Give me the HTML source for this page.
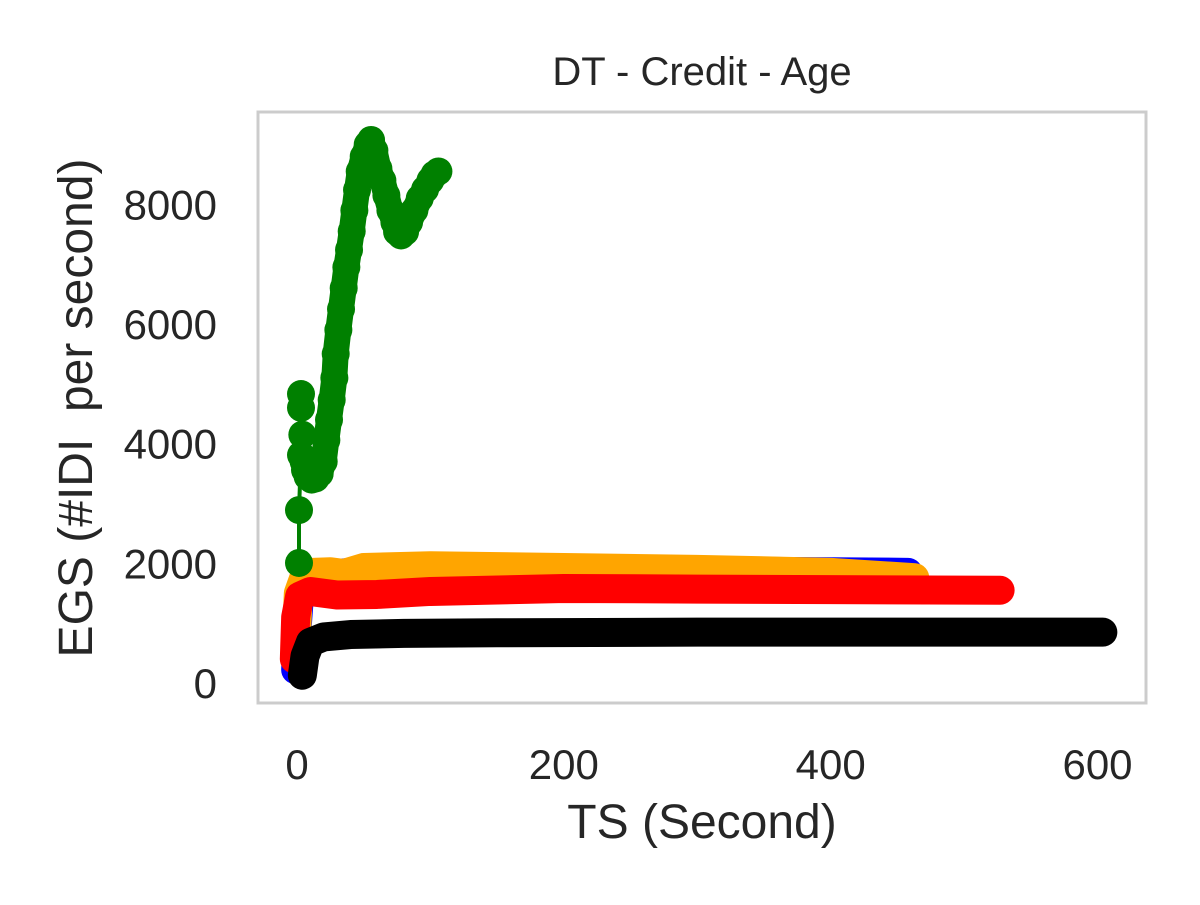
<!DOCTYPE html>
<html><head><meta charset="utf-8"><style>
body{margin:0;background:#fff}
svg text{font-family:"Liberation Sans",sans-serif;fill:#262626}
</style></head><body>
<svg width="1200" height="900" id="c">
<rect x="0" y="0" width="1200" height="900" fill="#fff"/>
<rect x="258" y="112" width="888" height="591" fill="#fff" stroke="#cccccc" stroke-width="3"/>
<text x="702" y="85" font-size="40" text-anchor="middle">DT - Credit - Age</text>
<text x="702" y="838" font-size="48" text-anchor="middle">TS (Second)</text>
<text transform="translate(92,408) rotate(-90)" font-size="48" text-anchor="middle" xml:space="preserve">EGS (#IDI  per second)</text>
<g id="ticks"></g>
<g id="series"></g>
</svg>
<script>
const xTicks=[0,200,400,600];
const yTicks=[0,2000,4000,6000,8000];
const blueX=[-1,0,2,5,15,40,100,200,300,400,458];
const blueY=[220,900,1500,1700,1800,1850,1880,1880,1870,1860,1850];
const orangeX=[-1,1,5,12,25,35,50,100,200,300,400,463];
const orangeY=[500,1500,1750,1850,1860,1830,1930,1960,1930,1900,1850,1760];
const redX=[-2,-1,2,10,30,60,100,200,300,400,527];
const redY=[400,1100,1450,1530,1470,1480,1530,1580,1570,1560,1550];
const blackX=[4,6,10,20,40,80,150,300,450,604];
const blackY=[130,450,680,770,810,830,840,850,850,850];
const greenX=[1.5,1.5,3,3,3,4,5,6,8,11,14,17,20,22,24,26,28,29,31,33,35,37,39,41,43,45,47,50,53,55.5,58,61,64,67,70,73,75,78,81,84,88,92,96,100,103,106];
const greenY=[2006,2890,3810,4600,4830,4150,3700,3560,3450,3400,3420,3500,3700,4060,4400,4730,5100,5500,5900,6250,6600,6950,7240,7550,7900,8240,8550,8800,9000,9076,8900,8600,8400,8150,7900,7700,7540,7480,7540,7700,7900,8100,8250,8400,8500,8550];
const X=v=>297+v*1.3342, Y=v=>683-v*0.05983;
const NS="http://www.w3.org/2000/svg";
const tg=document.getElementById('ticks'), sg=document.getElementById('series');
xTicks.forEach(t=>{const e=document.createElementNS(NS,'text');e.setAttribute('x',X(t));e.setAttribute('y',779);e.setAttribute('font-size','42');e.setAttribute('text-anchor','middle');e.textContent=t;


tg.appendChild(e);});
yTicks.forEach(t=>{const e=document.createElementNS(NS,'text');e.setAttribute('x',217);e.setAttribute('y',Y(t)+15);e.setAttribute('font-size','42');e.setAttribute('text-anchor','end');e.textContent=t;


tg.appendChild(e);});
function thick(xs,ys,col,name,w){const p=document.createElementNS(NS,'polyline');
p.setAttribute('points',xs.map((x,i)=>X(x)+','+Y(ys[i])).join(' '));
p.setAttribute('fill','none');p.setAttribute('stroke',col);p.setAttribute('stroke-width',w||'29');p.setAttribute('stroke-linecap','round');p.setAttribute('stroke-linejoin','round');


sg.appendChild(p);}
thick(blueX,blueY,'#0000ff','blue-series');
thick(orangeX,orangeY,'#ffa500','orange-series');
thick(redX,redY,'#ff0000','red-series');
thick(blackX,blackY,'#000000','black-series');
thick(greenX,greenY,'#008000','green-series-line','4');
thick(greenX.slice(6),greenY.slice(6),'#008000','green-series-band','26');
greenX.forEach((x,i)=>{const c=document.createElementNS(NS,'circle');c.setAttribute('cx',X(x));c.setAttribute('cy',Y(greenY[i]));c.setAttribute('r','14');c.setAttribute('fill','#008000');


sg.appendChild(c);});
</script>
</body></html>
